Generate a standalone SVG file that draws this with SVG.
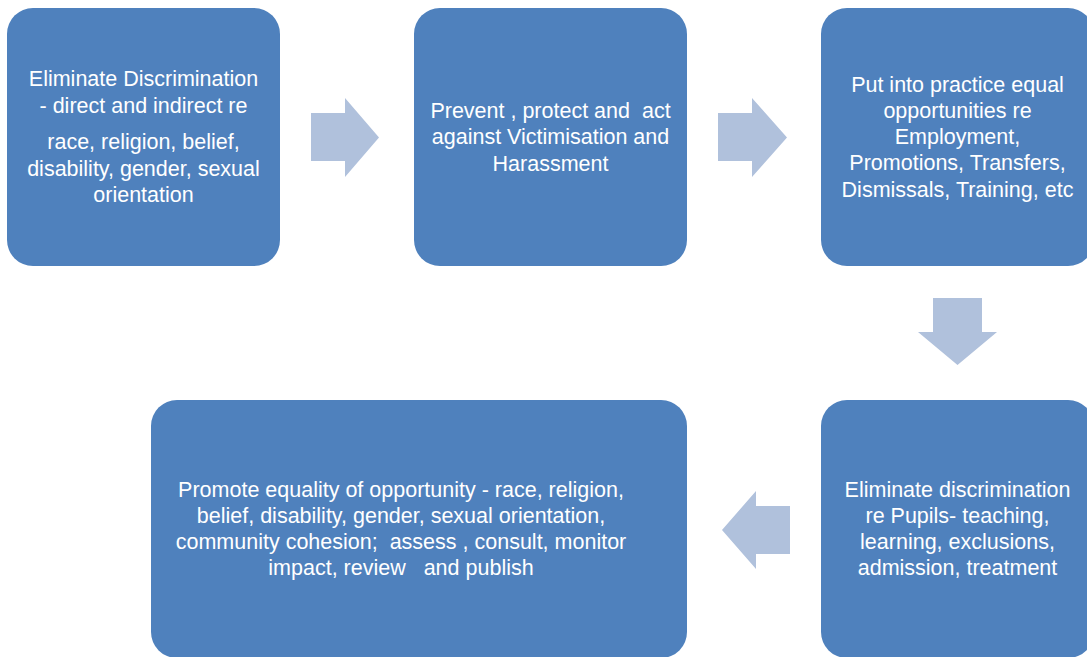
<svg xmlns="http://www.w3.org/2000/svg" width="1087" height="657" viewBox="0 0 1087 657">
<style>
.box{fill:#4F81BD;}
.arr{fill:#B0C1DC;}
text{font-family:"Liberation Sans",Arial,sans-serif;font-size:21.5px;fill:#FFFFFF;text-anchor:middle;}
</style>
<rect width="1087" height="657" fill="#FFFFFF"/>
<g id="connectors">
<polygon class="arr" points="311,113 345,113 345,98 379,137.5 345,177 345,161 311,161"/>
<polygon class="arr" points="718,113 752,113 752,98 787,137.5 752,177 752,161 718,161"/>
<polygon class="arr" points="933,298 982,298 982,332 997,332 957.5,365 918,332 933,332"/>
<polygon class="arr" points="790,506 756,506 756,491 722,530 756,569 756,554 790,554"/>
</g>
<g id="node1">
<rect class="box" x="7" y="8" width="273" height="258" rx="26"/>
<text x="143.5" y="86">Eliminate Discrimination</text>
<text x="143.5" y="113">- direct and indirect re</text>
<text x="143.5" y="149">race, religion, belief,</text>
<text x="143.5" y="176">disability, gender, sexual</text>
<text x="143.5" y="202">orientation</text>
</g>
<g id="node2">
<rect class="box" x="414" y="8" width="273" height="258" rx="26"/>
<text x="550.5" y="118" xml:space="preserve">Prevent , protect and  act</text>
<text x="550.5" y="144">against Victimisation and</text>
<text x="550.5" y="171">Harassment</text>
</g>
<g id="node3">
<rect class="box" x="821" y="8" width="273" height="258" rx="26"/>
<text x="957.5" y="92">Put into practice equal</text>
<text x="957.5" y="118">opportunities re</text>
<text x="957.5" y="144">Employment,</text>
<text x="957.5" y="170">Promotions, Transfers,</text>
<text x="957.5" y="197">Dismissals, Training, etc</text>
</g>
<g id="node4">
<rect class="box" x="821" y="400" width="273" height="258" rx="26"/>
<text x="957.5" y="497">Eliminate discrimination</text>
<text x="957.5" y="523">re Pupils- teaching,</text>
<text x="957.5" y="549">learning, exclusions,</text>
<text x="957.5" y="575">admission, treatment</text>
</g>
<g id="node5">
<rect class="box" x="151" y="400" width="536" height="258" rx="26"/>
<text x="401" y="497">Promote equality of opportunity - race, religion,</text>
<text x="401" y="523">belief, disability, gender, sexual orientation,</text>
<text x="401" y="549" xml:space="preserve">community cohesion;  assess , consult, monitor</text>
<text x="401" y="575" xml:space="preserve">impact, review   and publish</text>
</g>
</svg>
